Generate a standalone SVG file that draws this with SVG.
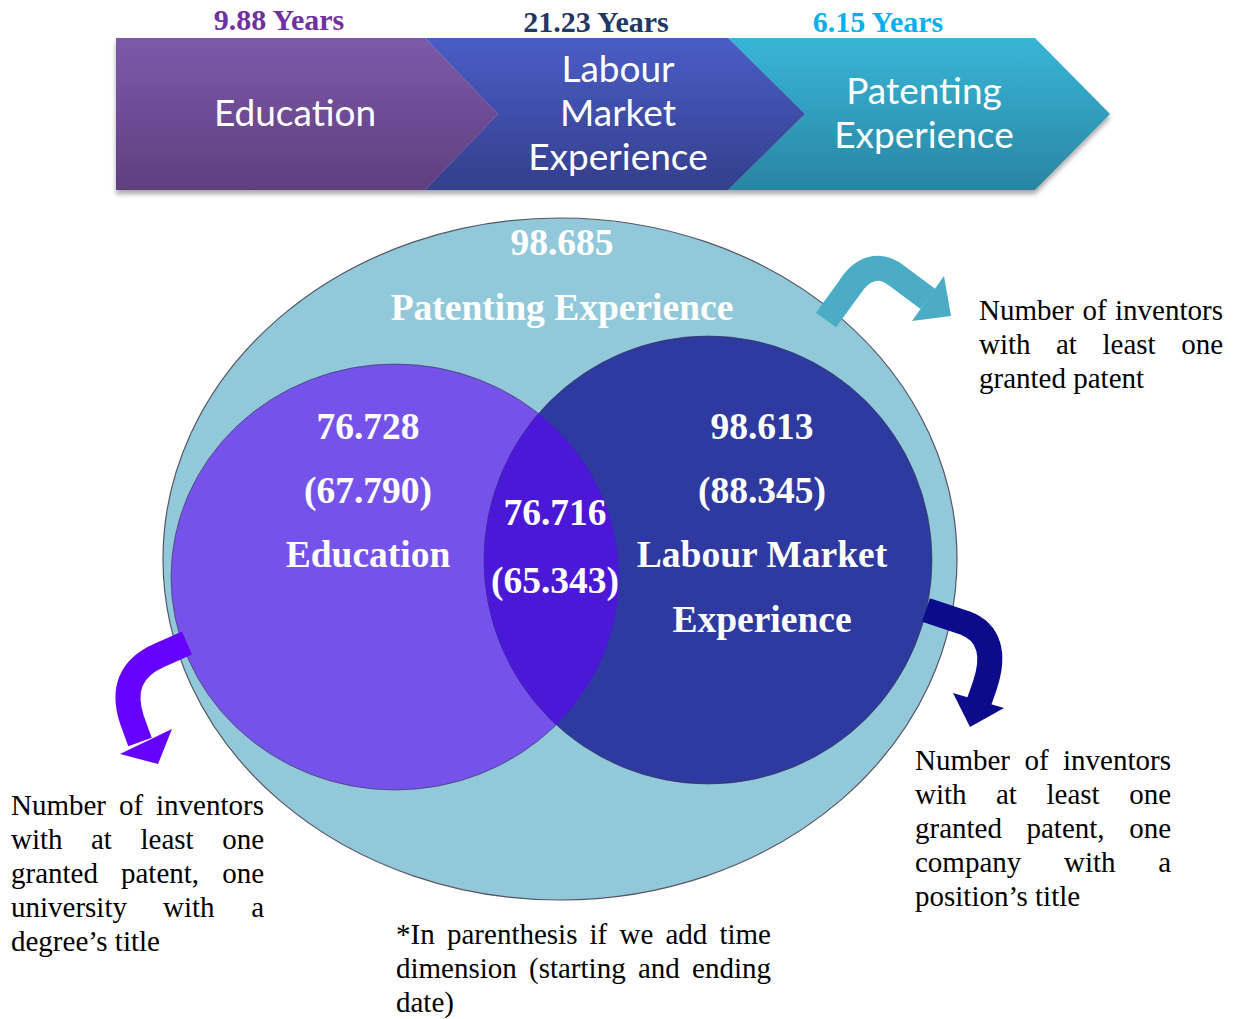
<svg xmlns="http://www.w3.org/2000/svg" width="1233" height="1019" viewBox="0 0 1233 1019">
<defs>
<linearGradient id="gEdu" x1="0" y1="0" x2="0" y2="1"><stop offset="0" stop-color="#7D59AA"/><stop offset="1" stop-color="#5F3F7F"/></linearGradient>
<linearGradient id="gLab" x1="0" y1="0" x2="0" y2="1"><stop offset="0" stop-color="#4A5DC6"/><stop offset="1" stop-color="#343F8C"/></linearGradient>
<linearGradient id="gPat" x1="0" y1="0" x2="0" y2="1"><stop offset="0" stop-color="#39B5D8"/><stop offset="1" stop-color="#2986A2"/></linearGradient>
<filter id="sh" x="-5%" y="-5%" width="110%" height="120%"><feGaussianBlur in="SourceAlpha" stdDeviation="2.5"/><feOffset dx="0" dy="4"/><feComponentTransfer><feFuncA type="linear" slope="0.35"/></feComponentTransfer><feMerge><feMergeNode/><feMergeNode in="SourceGraphic"/></feMerge></filter>
<clipPath id="cl"><ellipse cx="395" cy="577" rx="224" ry="213"/></clipPath>
<style>
.chev{font-family:Lato,"Liberation Sans",sans-serif;font-size:37px;fill:#fff;text-anchor:middle}
.yr{font-family:"Liberation Serif",serif;font-weight:bold;font-size:30px;text-anchor:middle}
.vn{font-family:"Liberation Serif",serif;font-weight:bold;font-size:37.5px;fill:#fff;text-anchor:middle}
.tx{font-family:"Liberation Serif",serif;font-size:29px;fill:#000}
.e{text-anchor:end}
</style>
</defs>

<g id="timeline" filter="url(#sh)">
<g id="chev-patent"><polygon points="728,38 1035,38 1110,114 1035,190 728,190 805,114" fill="url(#gPat)"/></g>
<g id="chev-labour"><polygon points="425,38 728,38 805,114 728,190 425,190 498,114" fill="url(#gLab)"/></g>
<g id="chev-edu"><polygon points="116,38 425,38 498,114 425,190 116,190" fill="url(#gEdu)"/></g>
</g>
<text class="chev" x="295" y="126">Education</text>
<text class="chev" x="618" y="82">Labour</text>
<text class="chev" x="618" y="126">Market</text>
<text class="chev" x="618" y="170">Experience</text>
<text class="chev" x="924" y="104">Patenting</text>
<text class="chev" x="924" y="148">Experience</text>
<text class="yr" x="279" y="30" fill="#7030A0">9.88 Years</text>
<text class="yr" x="596" y="32" fill="#1F3864">21.23 Years</text>
<text class="yr" x="878" y="32" fill="#00B0F0">6.15 Years</text>

<g id="venn-patenting"><ellipse cx="560" cy="559" rx="397" ry="341" fill="#92C9DA" stroke="#556" stroke-width="1.2"/></g>
<g id="venn-education"><ellipse cx="395" cy="577" rx="224" ry="213" fill="#7553EA" stroke="#334" stroke-opacity="0.6" stroke-width="1"/></g>
<g id="venn-labour"><ellipse cx="708" cy="560" rx="224" ry="224" fill="#2E3A9F" stroke="#334" stroke-opacity="0.6" stroke-width="1"/></g>
<g id="venn-overlap"><ellipse cx="708" cy="560" rx="224" ry="224" fill="#4A18D6" clip-path="url(#cl)"/></g>

<text class="vn" x="562" y="255">98.685</text>
<text class="vn" x="562" y="320">Patenting Experience</text>
<text class="vn" x="368" y="439">76.728</text>
<text class="vn" x="368" y="503">(67.790)</text>
<text class="vn" x="368" y="567">Education</text>
<text class="vn" x="762" y="439">98.613</text>
<text class="vn" x="762" y="503">(88.345)</text>
<text class="vn" x="762" y="567">Labour Market</text>
<text class="vn" x="762" y="632">Experience</text>
<text class="vn" x="555" y="525">76.716</text>
<text class="vn" x="555" y="593">(65.343)</text>

<g id="connectors">
<path d="M826,320 L850,287 C862,268 880,262 897,276 L928,299" fill="none" stroke="#4BACC6" stroke-width="25"/>
<polygon points="944,276 951,316 912,321" fill="#4BACC6"/>
<path d="M187,643 L160,655 C130,668 122,690 132,720 L140,742" fill="none" stroke="#6600FF" stroke-width="25"/>
<polygon points="120,754 158,764 172,729" fill="#6600FF"/>
<path d="M926,610 L965,623 C990,632 995,655 985,685 L978,705" fill="none" stroke="#0B0B8C" stroke-width="25"/>
<polygon points="953,693 970,727 1004,708" fill="#0B0B8C"/>
</g>

<g id="note-patent">
<text class="tx" y="320"><tspan x="979">Number</tspan><tspan x="1082.5">of</tspan></text><text class="tx e" x="1223" y="320">inventors</text>
<text class="tx" y="354"><tspan x="979">with</tspan><tspan x="1056">at</tspan><tspan x="1102.5">least</tspan></text><text class="tx e" x="1223" y="354">one</text>
<text class="tx" x="979" y="388">granted patent</text>
</g>
<g id="note-labour">
<text class="tx" y="770"><tspan x="915">Number</tspan><tspan x="1024.5">of</tspan></text><text class="tx e" x="1171" y="770">inventors</text>
<text class="tx" y="804"><tspan x="915">with</tspan><tspan x="996">at</tspan><tspan x="1046.5">least</tspan></text><text class="tx e" x="1171" y="804">one</text>
<text class="tx" y="838"><tspan x="915">granted</tspan><tspan x="1026.5">patent,</tspan></text><text class="tx e" x="1171" y="838">one</text>
<text class="tx" y="872"><tspan x="915">company</tspan><tspan x="1064">with</tspan></text><text class="tx e" x="1171" y="872">a</text>
<text class="tx" x="915" y="906">position’s title</text>
</g>
<g id="note-education">
<text class="tx" y="815"><tspan x="11">Number</tspan><tspan x="119">of</tspan></text><text class="tx e" x="264" y="815">inventors</text>
<text class="tx" y="849"><tspan x="11">with</tspan><tspan x="91">at</tspan><tspan x="140.5">least</tspan></text><text class="tx e" x="264" y="849">one</text>
<text class="tx" y="883"><tspan x="11">granted</tspan><tspan x="121">patent,</tspan></text><text class="tx e" x="264" y="883">one</text>
<text class="tx" y="917"><tspan x="11">university</tspan><tspan x="163">with</tspan></text><text class="tx e" x="264" y="917">a</text>
<text class="tx" x="11" y="951">degree’s title</text>
</g>
<g id="note-parenthesis">
<text class="tx" y="944"><tspan x="396">*In</tspan><tspan x="447">parenthesis</tspan><tspan x="589.5">if</tspan><tspan x="619.5">we</tspan><tspan x="665.5">add</tspan></text><text class="tx e" x="771" y="944">time</text>
<text class="tx" y="978"><tspan x="396">dimension</tspan><tspan x="529">(starting</tspan><tspan x="638">and</tspan></text><text class="tx e" x="771" y="978">ending</text>
<text class="tx" x="396" y="1012">date)</text>
</g>
</svg>
